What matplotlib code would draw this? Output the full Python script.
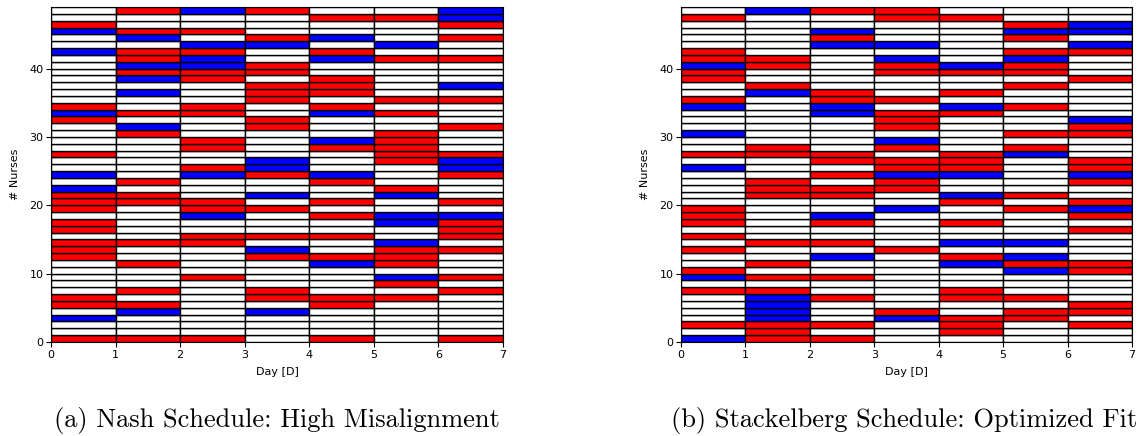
import matplotlib
matplotlib.use("Agg")
import matplotlib.pyplot as plt

## Shift codes per day, read top row (nurse 48) down to bottom row (nurse 0)
# W = off, R = red shift, B = blue shift
days = [0, 1, 2, 3, 4, 5, 6]
n_nurses = 49

nash = [
  "WWRBWWBWWWWWWWRBRWWWWRWWB" + "WBRRRWRRWRRRWWWWWRRWBWWR",
  "RWWRBWRRBRBWBWWRWBRWWWWWW" + "RWRRWWWWWRWWRWWWRWRBWWWR",
  "BWWRWBRBBRRWWWRRWWWRRWWRB" + "WWWRRBWWRRWWWWRWWWWWWWWR",
  "RWWWRBWWRRWRRRWWRRWWWWBBR" + "WWBWRWWWRWBRWWWWRRWBWWWW",
  "WRWWBWRBWWRRRWRBWWWBRWWWB" + "RWWRWRWWRWWRBWWWWRRWWWWR",
  "WRWWWBWRWWWWWRWRWWRRRRRWW" + "WRBWWBBWWBRRRWBRWRWWWWWW",
  "BBRWRWWRWWWBWRWWWRWWWRBBR" + "WWWRWBRRRWRWWWRWRWWWWWWR",
]

stackelberg = [
  "WRWWWWRRBRRWWRBWWWBWWRWBW" + "WWWWRRRWRWRWWRBWRWWWWRWB",
  "BWWWWWWRRWWRBWWWWWWWRRWWW" + "RRRWWWWWWRWWRWRWRBBBBRRR",
  "RWWBRBWWWWWWRRBBWWWWWRRWR" + "WRRWWBRWWRWBWWRWWRWWWRWR",
  "RRWWWBWBRRWWWRWRRRWBRWRRB" + "RRWWBWWWWWRWWWWWWWWRBWWW",
  "WRWWWWWWBRWWRWBRWWWWWRRRB" + "WWBRWWRWWBWRBWWWRRWWRRRW",
  "WWRBRWRBRRWRWWRWWWRWRBWWW" + "WWRWRWWWWBWBRBWWWRWRRWWW",
  "WWBBWBRWWWRWWWWWBRRWWWRRB" + "RWWRBRWRWWWWRRWWWWRRWRWW",
]

captions = ["(a) Nash Schedule: High Misalignment",
            "(b) Stackelberg Schedule: Optimized Fit"]

colors = {"W": "white", "R": "#ff0000", "B": "#0000ff"}

W, H = 1139, 436
fig = plt.figure(figsize=(W / 100, H / 100), dpi=100)

def draw(ax, sched):
  for d, col in zip(days, sched):
    codes = col[::-1]  # y = 0 first
    ax.barh(range(n_nurses), 1, left=d, height=1, align="edge",
            color=[colors[c] for c in codes], edgecolor="black", linewidth=1.0)
  ax.set_xlim(0, 7)
  ax.set_ylim(0, n_nurses)
  ax.set_xlabel("Day [D]", fontsize=8, labelpad=5)
  ax.set_ylabel("# Nurses", fontsize=8, labelpad=7)
  ax.tick_params(labelsize=8, length=3.5, pad=2)

ax1 = fig.add_axes([51 / W, (H - 342) / H, 452 / W, 335 / H])
draw(ax1, nash)
ax2 = fig.add_axes([681 / W, (H - 342) / H, 451 / W, 335 / H])
draw(ax2, stackelberg)

# subfigure captions (LaTeX style)
fig.text(277 / W, 1 - 427 / H, captions[0], fontsize=19, family="cmr10",
         ha="center", va="baseline")
fig.text(904 / W, 1 - 427 / H, captions[1], fontsize=19, family="cmr10",
         ha="center", va="baseline")

fig.savefig("out.png", dpi=100)
